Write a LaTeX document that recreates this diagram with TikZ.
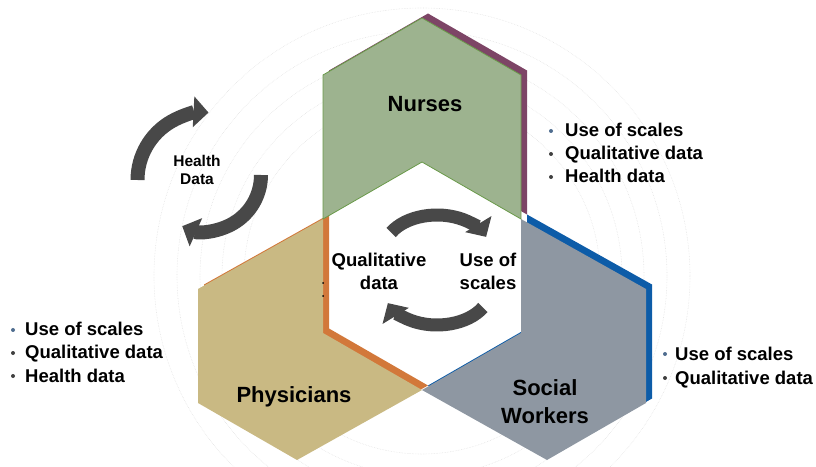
\documentclass[tikz,border=0pt]{standalone}
\usepackage{fontspec}
\setmainfont{Liberation Sans}
\usetikzlibrary{arrows.meta}
\definecolor{nursefill}{HTML}{9DB38F}
\definecolor{nurseshadow}{HTML}{7D4566}
\definecolor{nurseline}{HTML}{6A9A4A}
\definecolor{physfill}{HTML}{C9B983}
\definecolor{physshadow}{HTML}{D2783A}
\definecolor{socfill}{HTML}{8E97A2}
\definecolor{socshadow}{HTML}{0D5CA8}
\definecolor{arrowgray}{HTML}{484848}
\definecolor{bulletblue}{HTML}{4F6D8F}
\definecolor{bulletgray}{HTML}{404040}
\definecolor{ringgray}{HTML}{E4E4E4}
\begin{document}
\begin{tikzpicture}[x=1pt,y=1pt,
  ring/.style={ringgray, densely dotted, line width=0.6pt},
  bigarrow/.style={arrowgray, line width=14pt, -{Triangle[length=15pt,width=30pt]}},
  groupname/.style={font=\bfseries\fontsize{22}{26}\selectfont, inner sep=0pt, anchor=base},
  midlabel/.style={font=\bfseries\fontsize{18.5}{22}\selectfont, inner sep=0pt, anchor=base},
  smalllabel/.style={font=\bfseries\fontsize{15.5}{18}\selectfont, inner sep=0pt, anchor=base},
  listitem/.style={font=\bfseries\fontsize{18.5}{22}\selectfont, inner sep=0pt, anchor=base west},
  firstbullet/.style={fill=bulletblue},
  otherbullet/.style={fill=bulletgray}]
\useasboundingbox (0,0) rectangle (816,466);
\clip (0,0) rectangle (816,466);
% background rings
\foreach \r in {178,200,222,245,268}
  \draw[ring] (422,190) circle (\r);
% Physicians
\begin{scope}[shift={(6,4.5)}]
\fill[physshadow] (323,247) -- (198,177) -- (198,63) -- (297,6) -- (422,76) -- (323,133) -- cycle;
\end{scope}
\fill[physfill] (323,247) -- (198,177) -- (198,63) -- (297,6) -- (422,76) -- (323,133) -- cycle;
% Social workers
\begin{scope}[shift={(6,4.5)}]
\fill[socshadow] (521,247) -- (646,177) -- (646,63) -- (547,6) -- (422,76) -- (521,133) -- cycle;
\end{scope}
\fill[socfill] (521,247) -- (646,177) -- (646,63) -- (547,6) -- (422,76) -- (521,133) -- cycle;
% Nurses
\begin{scope}[shift={(6,4.5)}]
\fill[nurseshadow] (323,247) -- (323,391) -- (422,448) -- (521,391) -- (521,247) -- (422,304) -- cycle;
\end{scope}
\fill[nursefill, draw=nurseline, line width=0.8pt] (323,247) -- (323,391) -- (422,448) -- (521,391) -- (521,247) -- (422,304) -- cycle;
% stray dots
\fill[black] (323,183) circle (1);
\fill[black] (323,170) circle (1);
% central arrows
\draw[bigarrow, line width=13pt] (437,216) ++(150:53 and 35) arc[start angle=150, end angle=22, x radius=53, y radius=35];
\draw[bigarrow, line width=13pt] (437,176) ++(-30:53 and 35) arc[start angle=-30, end angle=-158, x radius=53, y radius=35];
% health data arrows
\draw[bigarrow] (205,286) ++(180:67.5) arc[start angle=180, end angle=87, radius=67.5];
\draw[bigarrow] (205,291) ++(0:56) arc[start angle=0, end angle=-114, radius=56];
% group names
\node[groupname] (nurses) at (425,354) {Nurses};
\node[groupname] (physicians) at (294,64) {Physicians};
\node[groupname] (social) at (545,71) {Social};
\node[groupname] (workers) at (545,43) {Workers};
% centre labels
\node[midlabel] (qual1) at (379,199) {Qualitative};
\node[midlabel] (qual2) at (379,176) {data};
\node[midlabel] (use1) at (488,199) {Use of};
\node[midlabel] (use2) at (488,176) {scales};
\node[smalllabel] (health1) at (197,299) {Health};
\node[smalllabel] (health2) at (197,281) {Data};
% right top list
\fill[firstbullet] (551,335) circle (2);
\fill[otherbullet] (551,312) circle (2);
\fill[otherbullet] (551,289) circle (2);
\node[listitem] (nl1) at (565,329) {Use of scales};
\node[listitem] (nl2) at (565,306) {Qualitative data};
\node[listitem] (nl3) at (565,283) {Health data};
% left list
\fill[firstbullet] (13,136) circle (2);
\fill[otherbullet] (13,113) circle (2);
\fill[otherbullet] (13,90) circle (2);
\node[listitem] (pl1) at (25,130) {Use of scales};
\node[listitem] (pl2) at (25,107) {Qualitative data};
\node[listitem] (pl3) at (25,84) {Health data};
% right bottom list
\fill[firstbullet] (665,112) circle (2);
\fill[otherbullet] (665,88) circle (2);
\node[listitem] (sl1) at (675,106) {Use of scales};
\node[listitem] (sl2) at (675,82) {Qualitative data};
\end{tikzpicture}
\end{document}
